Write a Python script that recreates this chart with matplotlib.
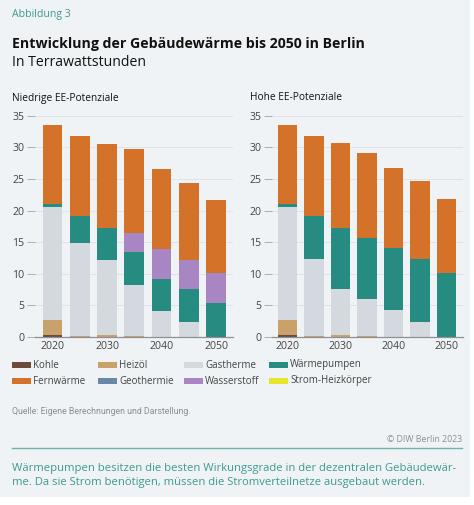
import matplotlib
matplotlib.use("Agg")
import matplotlib.pyplot as plt
from matplotlib.patches import Rectangle
from matplotlib.lines import Line2D
import numpy as np

# ---------------- data ----------------
years = [2020, 2025, 2030, 2035, 2040, 2045, 2050]
tick_years = [2020, 2030, 2040, 2050]
y_ticks = [0, 5, 10, 15, 20, 25, 30, 35]

categories = ["Kohle", "Heizöl", "Gastherme", "Wärmepumpen",
              "Fernwärme", "Geothermie", "Wasserstoff", "Strom-Heizkörper"]
colors = {
    "Kohle": "#6e4b3a",
    "Heizöl": "#c9a16b",
    "Gastherme": "#d4d9e0",
    "Wärmepumpen": "#268b80",
    "Fernwärme": "#d4722a",
    "Geothermie": "#6b87a3",
    "Wasserstoff": "#a886c3",
    "Strom-Heizkörper": "#e6e52c",
}
stack_order = ["Kohle", "Heizöl", "Gastherme", "Wärmepumpen",
               "Geothermie", "Strom-Heizkörper", "Wasserstoff", "Fernwärme"]

# Niedrige EE-Potenziale (TWh)
low_kohle = [0.25, 0, 0, 0, 0, 0, 0]
low_heizoel = [2.45, 0.2, 0.25, 0.1, 0, 0, 0]
low_gas = [17.8, 14.6, 11.85, 8.1, 4.05, 2.3, 0.05]
low_wp = [0.55, 4.3, 5.1, 5.2, 5.15, 5.3, 5.35]
low_geo = [0, 0, 0, 0, 0, 0, 0]
low_strom = [0, 0, 0, 0, 0, 0, 0]
low_h2 = [0, 0, 0, 3.0, 4.7, 4.6, 4.8]
low_fw = [12.45, 12.7, 13.4, 13.3, 12.6, 12.1, 11.4]

# Hohe EE-Potenziale (TWh)
high_kohle = [0.25, 0, 0, 0, 0, 0, 0]
high_heizoel = [2.45, 0.2, 0.3, 0.2, 0, 0, 0]
high_gas = [17.8, 12.1, 7.3, 5.8, 4.2, 2.4, 0]
high_wp = [0.55, 6.85, 9.6, 9.7, 9.85, 10.0, 10.1]
high_geo = [0, 0, 0, 0, 0, 0, 0]
high_strom = [0, 0, 0, 0, 0, 0, 0]
high_h2 = [0, 0, 0, 0, 0, 0, 0]
high_fw = [12.45, 12.65, 13.5, 13.4, 12.75, 12.3, 11.8]

low = {"Kohle": low_kohle, "Heizöl": low_heizoel, "Gastherme": low_gas,
       "Wärmepumpen": low_wp, "Geothermie": low_geo, "Strom-Heizkörper": low_strom,
       "Wasserstoff": low_h2, "Fernwärme": low_fw}
high = {"Kohle": high_kohle, "Heizöl": high_heizoel, "Gastherme": high_gas,
        "Wärmepumpen": high_wp, "Geothermie": high_geo, "Strom-Heizkörper": high_strom,
        "Wasserstoff": high_h2, "Fernwärme": high_fw}

# ---------------- figure ----------------
W, H = 474, 505
plt.rcParams['font.family'] = ['Open Sans', 'DejaVu Sans']
fig = plt.figure(figsize=(W / 100, H / 100), dpi=100)
fig.patch.set_facecolor("white")
BG = "#f0f3f5"
fig.patches.append(Rectangle((0, 1 - 497 / H), 470 / W, 497 / H,
                             transform=fig.transFigure, facecolor=BG,
                             edgecolor="none", zorder=-10))
renderer = fig.canvas.get_renderer()


def fx(px):
    return px / W


def fy(py):
    return 1 - py / H


def fit_text(xp, yp, s, target_w, ha="left", **kw):
    t = fig.text(fx(xp), fy(yp), s, fontsize=10, ha=ha, va="center", **kw)
    w = t.get_window_extent(renderer).width
    t.set_fontsize(10 * target_w / w)
    return t


TEAL = "#3c9a92"
GRAY_TXT = "#8b8f92"

fit_text(12, 14, "Abbildung 3", 59, color=TEAL)
fit_text(12, 44, "Entwicklung der Gebäudewärme bis 2050 in Berlin", 354,
         color="#111111", fontweight="bold")
fit_text(12, 62, "In Terrawattstunden", 134, color="#111111")
fit_text(12, 98, "Niedrige EE-Potenziale", 106, color="#111111")
fit_text(250, 98, "Hohe EE-Potenziale", 91, color="#111111")


def draw_panel(rect, data, xlim):
    ax = fig.add_axes(rect)
    ax.set_facecolor("none")
    bottom = np.zeros(len(years))
    for cat in stack_order:
        vals = np.array(data[cat], dtype=float)
        ax.bar(years, vals, bottom=bottom, width=3.65, color=colors[cat],
               linewidth=0, zorder=3)
        bottom += vals
    ax.set_xlim(*xlim)
    ax.set_ylim(0, 35.3)
    ax.set_yticks(y_ticks)
    ax.set_xticks(tick_years)
    ax.set_xticklabels([str(y) for y in tick_years])
    for s in ["top", "right", "left"]:
        ax.spines[s].set_visible(False)
    ax.spines["bottom"].set_color("#8c9196")
    ax.spines["bottom"].set_linewidth(0.9)
    ax.spines["bottom"].set_zorder(4)
    ax.yaxis.grid(True, color="#dde3e7", linewidth=0.7, zorder=0)
    ax.set_axisbelow(True)
    ax.tick_params(axis="y", length=6, width=0.6, color="#a0a5aa",
                   labelsize=7.6, labelcolor="#444444", pad=1.5)
    ax.tick_params(axis="x", length=0, labelsize=7.6, labelcolor="#444444", pad=3)
    return ax


ax_bottom = fy(337)
ax_h = (337 - 113.8) / H
draw_panel([fx(35), ax_bottom, fx(233) - fx(35), ax_h], low, (2016.8, 2053.1))
draw_panel([fx(272), ax_bottom, fx(463) - fx(272), ax_h], high, (2017.1, 2053.1))

# ---------------- legend ----------------
col_x = [12, 98, 184, 269]
row_y = [365, 381]
probe = fit_text(0, 0, "Wärmepumpen", 71)
leg_fs = probe.get_fontsize()
probe.remove()
for i, cat in enumerate(categories):
    r, c = divmod(i, 4)
    x0 = col_x[c]
    y0 = row_y[r]
    fig.patches.append(Rectangle((fx(x0), fy(y0 + 2.7)), 19 / W, 5.4 / H,
                                 transform=fig.transFigure,
                                 facecolor=colors[cat], edgecolor="none"))
    fig.text(fx(x0 + 21), fy(y0), cat, fontsize=leg_fs, color="#444444",
             ha="left", va="center")

# ---------------- footer ----------------
fit_text(12, 412, "Quelle: Eigene Berechnungen und Darstellung.", 178,
         color=GRAY_TXT, family=["Liberation Sans Narrow", "Roboto", "DejaVu Sans"])
fit_text(462, 440, "© DIW Berlin 2023", 75, ha="right", color=GRAY_TXT)
fig.add_artist(Line2D([fx(12), fx(462)], [fy(448), fy(448)],
                      transform=fig.transFigure, color="#6db3ae", linewidth=1.0))
t1 = fit_text(12, 468, "Wärmepumpen besitzen die besten Wirkungsgrade in der dezentralen Gebäudewär-",
              444, color=TEAL)
fig.text(fx(12), fy(482), "me. Da sie Strom benötigen, müssen die Stromverteilnetze ausgebaut werden.",
         fontsize=t1.get_fontsize(), color=TEAL, ha="left", va="center")

fig.savefig("out.png", dpi=100, facecolor=fig.get_facecolor())
